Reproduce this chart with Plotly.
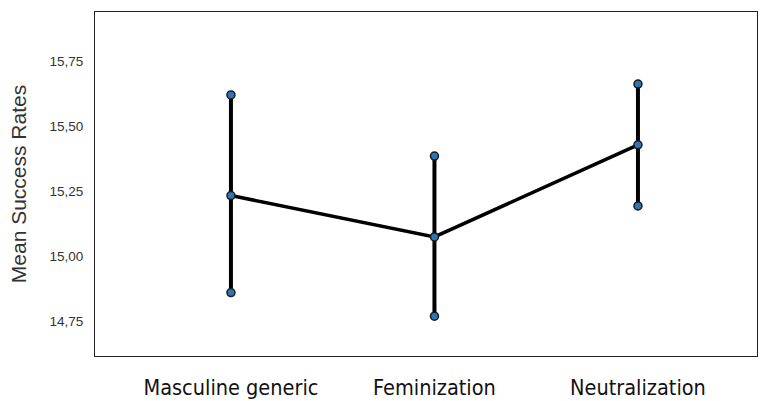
import plotly.graph_objects as go

categories = ["Masculine generic", "Feminization", "Neutralization"]
means = [15.235, 15.076, 15.43]
upper = [15.622, 15.387, 15.664]
lower = [14.862, 14.771, 15.195]
y_ticks = [14.75, 15.00, 15.25, 15.50, 15.75]

x_idx = list(range(len(categories)))

fig = go.Figure()
fig.add_trace(go.Scatter(
    x=x_idx, y=means, mode="lines+markers",
    line=dict(color="black", width=3.5),
    marker=dict(size=8, color="#2e75b6", line=dict(color="#1a1a1a", width=1.5)),
    error_y=dict(type="data", symmetric=False,
                 array=[u - m for u, m in zip(upper, means)],
                 arrayminus=[m - l for m, l in zip(means, lower)],
                 width=0, thickness=4, color="black"),
    showlegend=False,
))
fig.add_trace(go.Scatter(
    x=x_idx + x_idx, y=upper + lower, mode="markers",
    marker=dict(size=8, color="#2e75b6", line=dict(color="#1a1a1a", width=1.5)),
    showlegend=False,
))

fig.update_layout(
    width=761, height=401,
    margin=dict(l=95, r=4, t=12, b=45),
    paper_bgcolor="white", plot_bgcolor="white",
    separators=",.",
    font=dict(family="Liberation Sans, Arial, sans-serif", color="#333333"),
)
fig.update_xaxes(
    range=[-0.668, 2.585], tickvals=x_idx, ticktext=categories,
    showgrid=False, zeroline=False, showline=True, mirror=True,
    linecolor="#222222", linewidth=1, automargin=False,
    tickfont=dict(family="Liberation Sans Narrow, DejaVu Sans Condensed, Liberation Sans, sans-serif", size=21.5, color="#111111"),
    ticks="", ticklabelstandoff=12,
)
fig.update_yaxes(
    range=[14.618, 15.941], tickvals=y_ticks, tickformat=".2f",
    showgrid=False, zeroline=False, showline=True, mirror=True,
    linecolor="#222222", linewidth=1, automargin=False,
    tickfont=dict(size=13.5, color="#333333"),
    ticks="", ticklabelstandoff=8,
    title=dict(text="Mean Success Rates", font=dict(size=21, color="#333333"), standoff=17),
)

fig.write_html("out.html")
